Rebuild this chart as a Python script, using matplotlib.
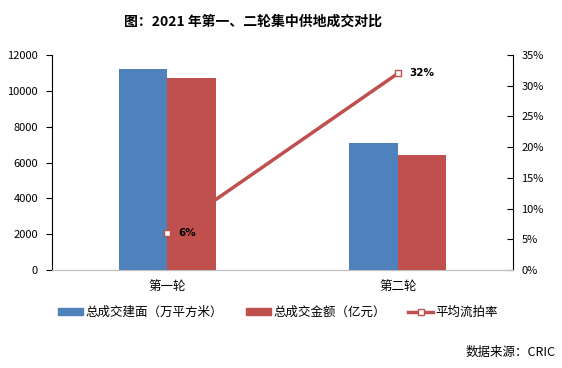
import numpy as np
import matplotlib.pyplot as plt
from matplotlib.patches import Patch
from matplotlib.lines import Line2D

plt.rcParams['font.family'] = ['Noto Sans CJK SC', 'DejaVu Sans']

# 数据
rounds = ['第一轮', '第二轮']
area = [11200, 7100]           # 总成交建面（万平方米）
amount = [10700, 6400]         # 总成交金额（亿元）
fail_rate = [0.06, 0.32]       # 平均流拍率
rate_labels = ['6%', '32%']

blue = '#4F81BD'
red = '#C0504D'

fig = plt.figure(figsize=(5.62, 3.68), dpi=100)
ax = fig.add_axes([0.0925, 0.2663, 0.8205, 0.5842])
ax2 = ax.twinx()
ax.set_zorder(2)
ax.patch.set_visible(False)
ax2.set_zorder(1)

x = np.arange(len(rounds))
w = 0.21
ax.bar(x - w / 2, area, w, color=blue, zorder=3)
ax.bar(x + w / 2, amount, w, color=red, zorder=3)

# 折线在柱子后面，标记在前面
ax2.plot(x, fail_rate, color=red, lw=2.5, zorder=2)
ax.plot(x, fail_rate, transform=ax2.transData, ls='none', marker='s', ms=5,
        mfc='white', mec=red, mew=1, zorder=5, clip_on=False)
for xi, yi, lab in zip(x, fail_rate, rate_labels):
    ax.annotate(lab, (xi, yi), xycoords=ax2.transData, xytext=(8, 0),
                textcoords='offset points', va='center', ha='left',
                fontsize=7.5, fontweight='bold', family='DejaVu Sans', zorder=6)

ax.set_xlim(-0.5, 1.5)
ax.set_ylim(0, 12000)
ax.set_yticks(np.arange(0, 12001, 2000))
ax2.set_ylim(0, 0.35)
ax2.set_yticks(np.arange(0, 0.351, 0.05))
ax2.set_yticklabels([f'{int(round(v * 100))}%' for v in np.arange(0, 0.351, 0.05)])

ax.set_xticks(x)
ax.set_xticklabels(rounds, fontsize=9)
ax.tick_params(axis='x', length=0, pad=7)
ax.tick_params(axis='y', labelsize=8, length=4, direction='out', pad=6)
ax2.tick_params(axis='y', labelsize=8, length=4, direction='in', pad=6)
for a in (ax, ax2):
    a.spines['top'].set_visible(False)
    a.spines['bottom'].set_color('#BFBFBF')
ax.spines['right'].set_visible(False)
ax2.spines['left'].set_visible(False)

fig.text(0.45, 0.94, '图：2021 年第一、二轮集中供地成交对比', ha='center', va='center',
         fontsize=10, fontweight='bold')

handles = [Patch(color=blue), Patch(color=red),
           Line2D([], [], color=red, lw=2.5, marker='s', ms=5, mfc='white', mec=red)]
labels = ['总成交建面（万平方米）', '总成交金额（亿元）', '平均流拍率']
fig.legend(handles, labels, loc='center', bbox_to_anchor=(0.495, 0.152), ncol=3,
           frameon=False, fontsize=9, handlelength=2.0, handleheight=0.5,
           handletextpad=0.2, columnspacing=1.8)

fig.text(0.988, 0.043, '数据来源：CRIC', ha='right', va='center', fontsize=9)

plt.savefig('out.png', dpi=100)
